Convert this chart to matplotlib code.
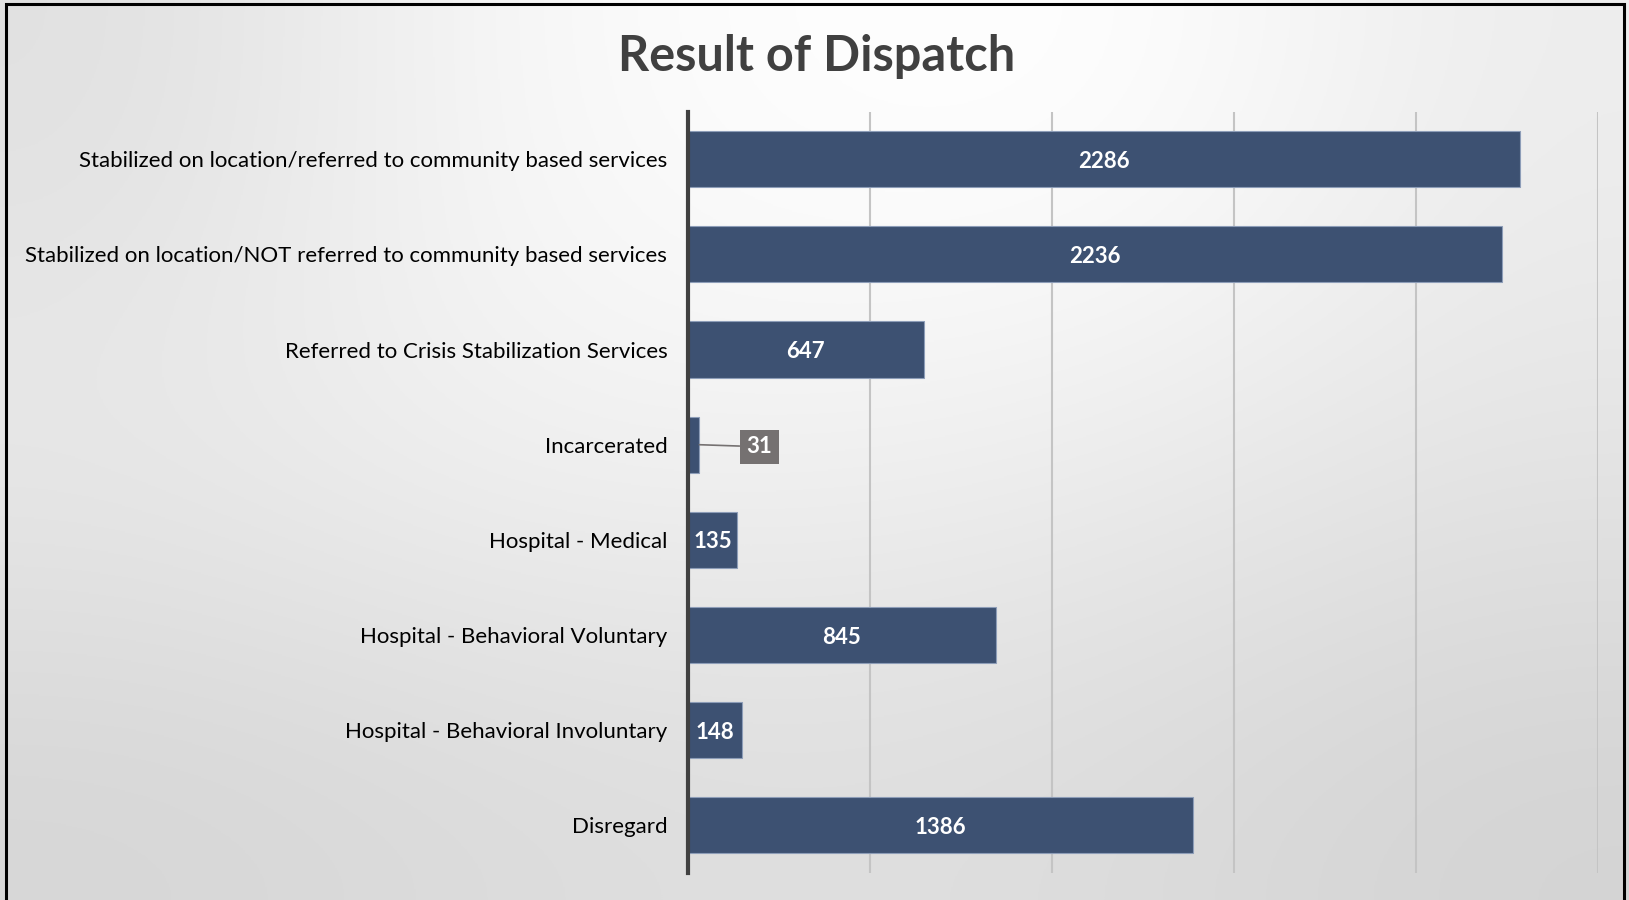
import numpy as np
import matplotlib.pyplot as plt
from matplotlib.patches import Rectangle

categories = [
    "Stabilized on location/referred to community based services",
    "Stabilized on location/NOT referred to community based services",
    "Referred to Crisis Stabilization Services",
    "Incarcerated",
    "Hospital - Medical",
    "Hospital - Behavioral Voluntary",
    "Hospital - Behavioral Involuntary",
    "Disregard",
]
counts = [2286, 2236, 647, 31, 135, 845, 148, 1386]
x_ticks = [0, 500, 1000, 1500, 2000, 2500]

bar_color = "#3D5172"
plt.rcParams['font.family'] = ['Lato', 'DejaVu Sans']

fig = plt.figure(figsize=(16.29, 9), dpi=100)

# background shading (grey levels, top to bottom)
bg_levels = np.array([
    [0.88, 0.97, 1.00, 1.00, 0.93],
    [0.92, 0.95, 0.95, 0.93, 0.90],
    [0.84, 0.86, 0.875, 0.86, 0.83],
])
bg = fig.add_axes([0, 0, 1, 1], zorder=-10)
bg.imshow(np.dstack([bg_levels] * 3), extent=[0, 1, 0, 1], aspect='auto',
          interpolation='bicubic')
bg.set_xlim(0, 1)
bg.set_ylim(0, 1)
bg.axis('off')
bg.add_patch(Rectangle((0.0035, -0.02), 0.9935, 1.0155, fill=False,
                       edgecolor='black', linewidth=2.2, transform=bg.transAxes))

ax = fig.add_axes([0.4224, 0.03, 0.5586, 0.846])
ax.patch.set_alpha(0)
y = np.arange(len(categories))
ax.barh(y, counts, height=0.59, color=bar_color, edgecolor='#8D9DB8',
        linewidth=0.8, zorder=3)

ax.set_xlim(0, 2500)
ax.set_ylim(len(categories) - 0.5, -0.5)
ax.set_xticks(x_ticks)
ax.set_xticklabels([])
ax.tick_params(axis='x', length=0)
ax.tick_params(axis='y', length=0, pad=15)
ax.set_yticks(y)
ax.set_yticklabels(categories, fontsize=16, color='black')
ax.grid(axis='x', color='#C4C4C4', linewidth=1.5, zorder=1)
for s in ['top', 'right', 'bottom']:
    ax.spines[s].set_visible(False)
ax.spines['left'].set_color('#404040')
ax.spines['left'].set_linewidth(3)
ax.spines['left'].set_zorder(5)

for yi, v in zip(y, counts):
    if v < 100:
        ax.annotate(str(v), xy=(v, yi), xytext=(195, yi),
                    ha='center', va='center_baseline', fontsize=16,
                    fontweight='bold', color='white',
                    bbox=dict(boxstyle='square,pad=0.3', fc='#757171', ec='none'),
                    arrowprops=dict(arrowstyle='-', color='#757171', lw=1.2,
                                    shrinkA=0, shrinkB=0))
    else:
        ax.text(v / 2, yi, str(v), ha='center', va='center_baseline',
                fontsize=16, fontweight='bold', color='white', zorder=4)

fig.text(0.5015, 0.937, "Result of Dispatch", ha='center', va='center',
         fontsize=35, fontweight='bold', color='#404040')

fig.savefig("out.png", dpi=100)
